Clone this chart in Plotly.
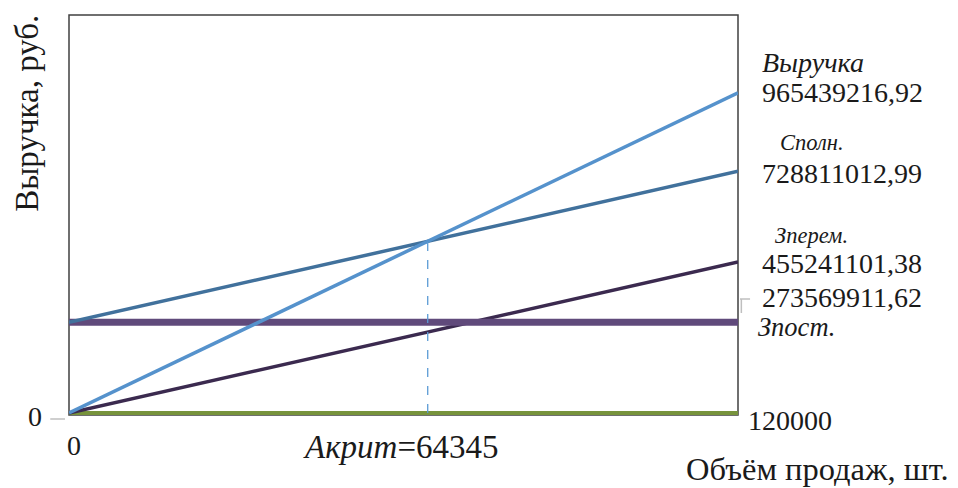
import plotly.graph_objects as go

# --- data ---
volume = [0, 120000]
revenue = [0, 965439216.92]
total_cost = [273569911.62, 728811012.99]
variable_cost = [0, 455241101.38]
fixed_cost = [273569911.62, 273569911.62]
zero_line = [0, 0]
break_even = 64345
value_labels = ["965439216,92", "728811012,99", "455241101,38", "273569911,62"]
series_names = ["Выручка", "Сполн.", "Зперем.", "Зпост."]

price = revenue[1] / volume[1]
be_revenue = price * break_even

SERIF = "Liberation Serif, Times New Roman, serif"

fig = go.Figure()
fig.add_trace(go.Scatter(x=volume, y=zero_line, mode="lines",
                         line=dict(color="#77933c", width=4)))
fig.add_trace(go.Scatter(x=volume, y=variable_cost, mode="lines",
                         line=dict(color="#3b2a4f", width=3.5)))
fig.add_trace(go.Scatter(x=volume, y=fixed_cost, mode="lines",
                         line=dict(color="#604a7b", width=7)))
fig.add_trace(go.Scatter(x=volume, y=total_cost, mode="lines",
                         line=dict(color="#41719c", width=3.5)))
fig.add_trace(go.Scatter(x=volume, y=revenue, mode="lines",
                         line=dict(color="#5592cc", width=3.5)))
fig.add_trace(go.Scatter(x=[break_even, break_even], y=[0, be_revenue], mode="lines",
                         line=dict(color="#5b9bd5", width=1.3, dash="dash")))

ann = []
def A(text, x, y, size, italic=False, xanchor="left", **kw):
    if italic:
        text = "<i>" + text + "</i>"
    ann.append(dict(text=text, x=x, y=y, xref="paper", yref="paper",
                    xanchor=xanchor, yanchor="middle", showarrow=False,
                    font=dict(family=SERIF, size=size, color="#1a1a1a"), **kw))

A(series_names[0], 1.033, 0.8825, 28, italic=True)
A(value_labels[0], 1.033, 0.805, 28)
A(series_names[1], 1.060, 0.6825, 22.5, italic=True)
A(value_labels[1], 1.033, 0.605, 28)
A(series_names[2], 1.052, 0.45, 22.5, italic=True)
A(value_labels[2], 1.033, 0.38, 28)
A(value_labels[3], 1.033, 0.295, 28)
A(series_names[3], 1.027, 0.22, 26.5, italic=True)
A(str(volume[1]), 1.012, -0.0125, 28)
A("0", 0.0075, -0.075, 28, xanchor="center")
A("0", -0.051, -0.0025, 28, xanchor="center")
A("<i>Акрит</i>=" + str(break_even), 0.496, -0.08, 33, xanchor="center")
A("Объём продаж, шт.", 1.319, -0.135, 32.5, xanchor="right")
ann.append(dict(text="Выручка, руб.", x=-0.063, y=0.755, xref="paper", yref="paper",
                xanchor="center", yanchor="middle", showarrow=False, textangle=-90,
                font=dict(family=SERIF, size=33, color="#1a1a1a")))

shapes = [
    dict(type="rect", xref="paper", yref="paper", x0=0, x1=1, y0=0, y1=1,
         line=dict(color="#404040", width=1.5), layer="below"),
    dict(type="line", xref="paper", yref="paper", x0=1.003, x1=1.018, y0=0.29, y1=0.29,
         line=dict(color="#bfbfbf", width=1.5)),
    dict(type="line", xref="paper", yref="paper", x0=1.005, x1=1.005, y0=0.29, y1=0.255,
         line=dict(color="#bfbfbf", width=1.5)),
    dict(type="line", xref="paper", yref="paper", x0=-0.028, x1=-0.006, y0=-0.01, y1=-0.01,
         line=dict(color="#bfbfbf", width=1.5)),
]

fig.update_layout(
    width=950, height=480,
    margin=dict(l=61, r=220, t=7, b=73),
    paper_bgcolor="white", plot_bgcolor="white",
    showlegend=False,
    annotations=ann, shapes=shapes,
    xaxis=dict(range=[0, 120000], showgrid=False, zeroline=False, showticklabels=False,
               showline=False, ticks=""),
    yaxis=dict(range=[-0.006e9, 1.2e9], showgrid=False, zeroline=False, showticklabels=False,
               showline=False, ticks=""),
)
fig.write_html("out.html")
